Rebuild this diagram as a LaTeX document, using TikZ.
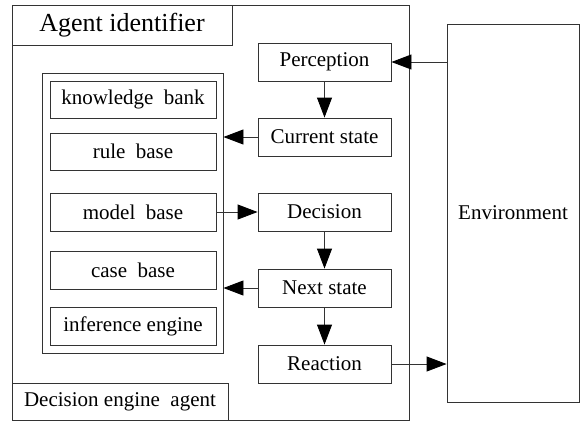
\documentclass[tikz,border=0pt]{standalone}
\usepackage{fontspec}
\setmainfont{Liberation Serif}
\usetikzlibrary{arrows.meta}
\begin{document}
\begin{tikzpicture}[x=1pt,y=-1pt,
  box/.style={draw=black!80,line width=0.9pt,rectangle,inner sep=0pt,font=\fontsize{21}{24}\selectfont},
  arr/.style={draw=black!80,line width=0.9pt,-{Triangle[length=20pt,width=15pt,color=black,fill=black]}}]
\useasboundingbox (0,0) rectangle (580,421);
% outer agent frame
\node[box,minimum width=397pt,minimum height=415pt] (outer) at (210.5,212.5) {};
\node[box,minimum width=220pt,minimum height=40pt,font=\fontsize{26}{30}\selectfont] (aid) at (122,25) {Agent identifier};
\node[box,minimum width=216pt,minimum height=37pt] (dea) at (120,401.5) {Decision engine\ \ agent};
% container
\node[box,minimum width=181pt,minimum height=280pt] (cont) at (132.5,213) {};
\node[box,minimum width=166pt,minimum height=37pt] (kb) at (133,99.5) {knowledge\ \ bank};
\node[box,minimum width=166pt,minimum height=37pt] (rb) at (133,151.5) {rule\ \ base};
\node[box,minimum width=166pt,minimum height=38pt] (mb) at (133,212) {model\ \ base};
\node[box,minimum width=166pt,minimum height=38pt] (cb) at (133,270) {case\ \ base};
\node[box,minimum width=166pt,minimum height=38pt] (ie) at (133,326) {inference engine};
% middle column
\node[box,minimum width=133pt,minimum height=38pt] (perc) at (324.5,62) {Perception};
\node[box,minimum width=133pt,minimum height=38pt] (cur) at (324.5,137) {Current state};
\node[box,minimum width=133pt,minimum height=38pt] (dec) at (324.5,212) {Decision};
\node[box,minimum width=133pt,minimum height=38pt] (next) at (324.5,288) {Next state};
\node[box,minimum width=133pt,minimum height=38pt] (react) at (324.5,364) {Reaction};
% environment
\node[box,minimum width=132pt,minimum height=378pt] (env) at (513,213) {Environment};
% connectors
\draw[arr] (perc.east -| env.west) -- (perc.east);
\draw[arr] (perc.south) -- (cur.north);
\draw[arr] (cur.west) -- (cur.west -| cont.east);
\draw[arr] (mb.east) -- (dec.west);
\draw[arr] (dec.south) -- (next.north);
\draw[arr] (next.west) -- (next.west -| cont.east);
\draw[arr] (next.south) -- (react.north);
\draw[arr] (react.east) -- (react.east -| env.west);
\end{tikzpicture}
\end{document}
